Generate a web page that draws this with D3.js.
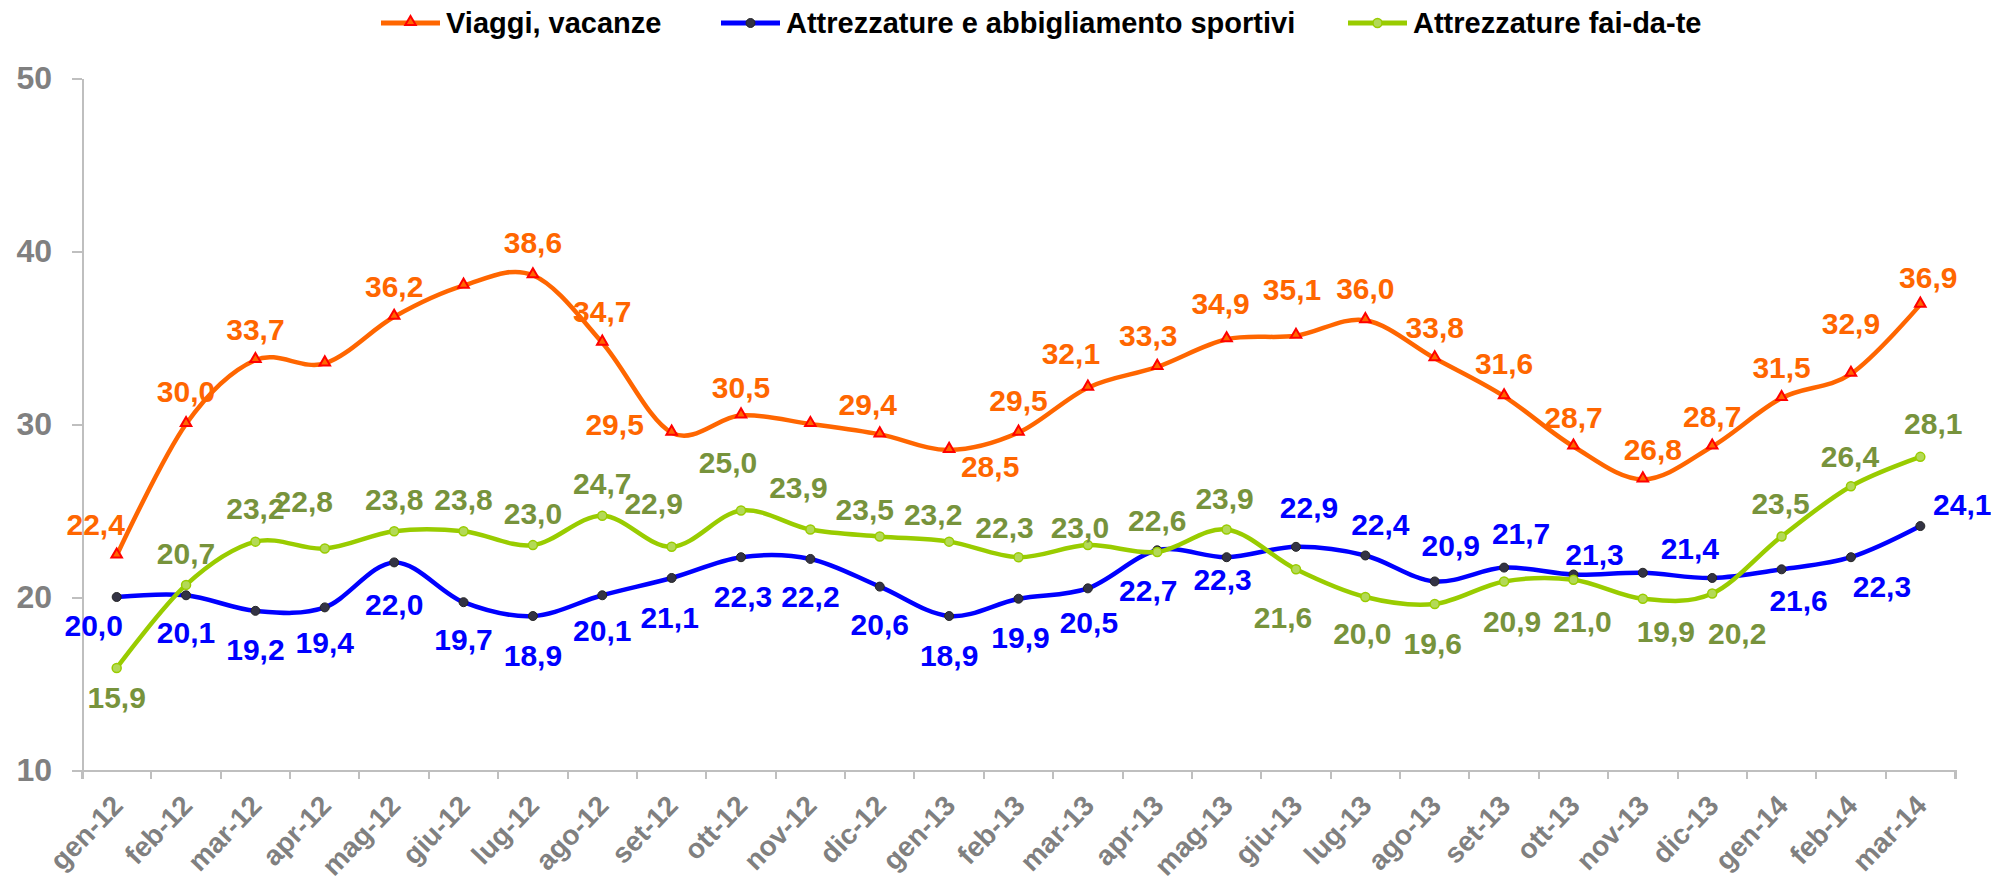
<!DOCTYPE html>
<html>
  <head>
    <script src="https://cdnjs.cloudflare.com/ajax/libs/d3/7.8.5/d3.min.js" charset="utf-8"></script>
    <style type="text/css">
      body {
        margin: 0;
        background: #fff;
        font-family: "Liberation Sans", Arial, sans-serif;
        font-weight: bold;
      }
      .axis path, .axis line {
        fill: none;
        stroke: #bfbfbf;
        stroke-width: 2;
        shape-rendering: crispEdges;
      }
      .axis text {
        fill: #808080;
        font-family: "Liberation Sans", Arial, sans-serif;
        font-weight: bold;
      }
    </style>
  </head>
  <body>
    <script type="text/javascript">
      // months on the x axis
      var months = ["gen-12", "feb-12", "mar-12", "apr-12", "mag-12", "giu-12", "lug-12", "ago-12",
                    "set-12", "ott-12", "nov-12", "dic-12", "gen-13", "feb-13", "mar-13", "apr-13",
                    "mag-13", "giu-13", "lug-13", "ago-13", "set-13", "ott-13", "nov-13", "dic-13",
                    "gen-14", "feb-14", "mar-14"];

      var viaggi = [22.4, 30.0, 33.7, 33.5, 36.2, 38.0, 38.6, 34.7, 29.5, 30.5, 30.0, 29.4, 28.5, 29.5,
                    32.1, 33.3, 34.9, 35.1, 36.0, 33.8, 31.6, 28.7, 26.8, 28.7, 31.5, 32.9, 36.9];
      var sportivi = [20.0, 20.1, 19.2, 19.4, 22.0, 19.7, 18.9, 20.1, 21.1, 22.3, 22.2, 20.6, 18.9, 19.9,
                      20.5, 22.7, 22.3, 22.9, 22.4, 20.9, 21.7, 21.3, 21.4, 21.1, 21.6, 22.3, 24.1];
      var faidate = [15.9, 20.7, 23.2, 22.8, 23.8, 23.8, 23.0, 24.7, 22.9, 25.0, 23.9, 23.5, 23.2, 22.3,
                     23.0, 22.6, 23.9, 21.6, 20.0, 19.6, 20.9, 21.0, 19.9, 20.2, 23.5, 26.4, 28.1];

      var yTicks = [10, 20, 30, 40, 50];

      // where each data label sits relative to its point (null = no label)
      var viaggiLab = [[-21,-31],[0,-33],[0,-31],null,[0,-31],null,[0,-33],[0,-31],[-57,-8],[0,-28],null,
                       [-12,-30],[41,16],[0,-32],[-17,-34],[-9,-32],[-6,-36],[-4,-47],[0,-32],[0,-31],
                       [0,-33],[0,-29],[10,-30],[0,-30],[0,-31],[0,-51],[8,-27]];
      var sportiviLab = [[-23,28],[0,37],[0,38],[0,35],[0,42],[0,37],[0,39],[0,35],[-2,39],[2,39],[0,37],
                         [0,38],[0,39],[2,38],[1,34],[-9,40],[-4,22],[13,-40],[15,-31],[16,-36],[17,-34],
                         [21,-20],[47,-25],null,[17,31],[31,29],[42,-22]];
      var faidateLab = [[0,29],[0,-32],[0,-33],[-21,-47],[0,-32],[0,-32],[0,-32],[0,-32],[-18,-44],
                        [-13,-48],[-12,-42],[-15,-27],[-16,-27],[-14,-30],[-8,-18],[0,-32],[-2,-31],
                        [-13,48],[-3,36],[-2,39],[8,40],[9,41],[23,32],[25,40],[-1,-33],[-1,-30],[13,-34]];

      var w = 1991, h = 888;
      var margin = { top: 78, right: 36, bottom: 118, left: 82 };

      var svg = d3.select("body").append("svg")
          .attr("width", w)
          .attr("height", h);

      var xScale = d3.scaleBand()
          .domain(months)
          .range([margin.left, w - margin.right]);

      var yScale = d3.scaleLinear()
          .domain([10, 50])
          .range([h - margin.bottom, margin.top]);

      var itFormat = d3.formatLocale({ decimal: ",", thousands: ".", grouping: [3], currency: ["", "€"] }).format(".1f");

      function px(i) { return xScale(months[i]) + xScale.bandwidth() / 2; }

      // X axis with rotated labels
      var xAxis = d3.axisBottom(xScale).tickSize(9).tickSizeOuter(9).tickFormat(function(d) { return d; });
      var gx = svg.append("g")
          .attr("class", "axis")
          .attr("transform", "translate(0," + (h - margin.bottom) + ")")
          .call(xAxis);
      // ticks sit on band edges, not band centers
      gx.selectAll(".tick line").attr("transform", "translate(" + (-xScale.bandwidth() / 2) + ",0)");
      gx.append("line")
          .attr("x1", w - margin.right).attr("x2", w - margin.right)
          .attr("y1", 0).attr("y2", 9);
      gx.selectAll(".tick text")
          .attr("font-size", 28)
          .attr("text-anchor", "end")
          .attr("dy", null)
          .attr("y", 0)
          .attr("transform", "translate(8,37) rotate(-46)");

      // Y axis
      var yAxis = d3.axisLeft(yScale).tickValues(yTicks).tickSize(10).tickSizeOuter(0).tickPadding(20);
      var gy = svg.append("g")
          .attr("class", "axis")
          .attr("transform", "translate(" + margin.left + ",0)")
          .call(yAxis);
      gy.selectAll(".tick text").attr("font-size", 32);

      var series = [
        { name: "Viaggi, vacanze", values: viaggi, lab: viaggiLab, line: "#ff6600", text: "#ff6600", marker: "tri" },
        { name: "Attrezzature e abbigliamento sportivi", values: sportivi, lab: sportiviLab, line: "#0000ff", text: "#0000ff", marker: "dark" },
        { name: "Attrezzature fai-da-te", values: faidate, lab: faidateLab, line: "#99cc00", text: "#77933c", marker: "green" }
      ];

      var line = d3.line()
          .x(function(d, i) { return px(i); })
          .y(function(d) { return yScale(d); })
          .curve(d3.curveCardinal);

      function drawMarker(g, type, x, y) {
        if (type === "tri") {
          g.append("path")
            .attr("d", d3.symbol().type(d3.symbolTriangle).size(48)())
            .attr("transform", "translate(" + x + "," + (y - 1) + ")")
            .attr("fill", "#ff6600")
            .attr("stroke", "#ff0000")
            .attr("stroke-width", 2);
        } else if (type === "dark") {
          g.append("circle").attr("cx", x).attr("cy", y).attr("r", 4.5)
            .attr("fill", "#333344").attr("stroke", "#262626").attr("stroke-width", 1);
        } else {
          g.append("circle").attr("cx", x).attr("cy", y).attr("r", 4.5)
            .attr("fill", "#b3d957").attr("stroke", "#99cc00").attr("stroke-width", 1.5);
        }
      }

      series.forEach(function(s) {
        svg.append("path")
          .datum(s.values)
          .attr("d", line)
          .attr("fill", "none")
          .attr("stroke", s.line)
          .attr("stroke-width", 4.5);
        var gm = svg.append("g");
        s.values.forEach(function(v, i) { drawMarker(gm, s.marker, px(i), yScale(v)); });
      });

      // data labels on top
      series.forEach(function(s) {
        svg.append("g").selectAll("text")
          .data(s.values.map(function(v, i) { return { v: v, i: i, off: s.lab[i] }; })
                        .filter(function(d) { return d.off; }))
          .enter()
          .append("text")
          .attr("x", function(d) { return px(d.i) + d.off[0]; })
          .attr("y", function(d) { return yScale(d.v) + d.off[1]; })
          .attr("dy", "0.36em")
          .attr("text-anchor", "middle")
          .attr("font-size", 30)
          .attr("fill", s.text)
          .text(function(d) { return itFormat(d.v); });
      });

      // legend
      var legendX = [381, 721, 1348];
      var legend = svg.append("g").attr("transform", "translate(0,23)");
      series.forEach(function(s, k) {
        var x0 = legendX[k];
        legend.append("line")
          .attr("x1", x0).attr("x2", x0 + 59)
          .attr("y1", 0).attr("y2", 0)
          .attr("stroke", s.line)
          .attr("stroke-width", 5);
        drawMarker(legend, s.marker, x0 + 29.5, 0);
        legend.append("text")
          .attr("x", x0 + 65)
          .attr("y", 0)
          .attr("dy", "0.36em")
          .attr("font-size", 29)
          .attr("fill", "#000")
          .text(s.name);
      });
    </script>
  </body>
</html>
